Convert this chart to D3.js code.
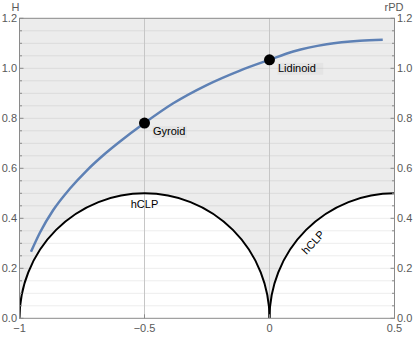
<!DOCTYPE html>
<html>
<head>
<meta charset="utf-8">
<script src="https://cdn.jsdelivr.net/npm/d3@7"></script>
<style>
  body { margin: 0; background: #fff; }
  text { font-family: "Liberation Sans", Arial, sans-serif; }
</style>
</head>
<body>
<svg id="chart" width="415" height="338"></svg>
<script>
// rPD family curve
let rpdX = [-0.954, -0.918, -0.865, -0.798, -0.731, -0.665, -0.598, -0.5, -0.385, -0.251, -0.118, 0, 0.095, 0.229, 0.362, 0.453];
let rpdH = [0.266, 0.343, 0.433, 0.519, 0.591, 0.652, 0.707, 0.781, 0.86, 0.933, 0.991, 1.034, 1.067, 1.096, 1.11, 1.114];

// named surfaces on the curve
let pointNames = ['Gyroid', 'Lidinoid'];
let pointX = [-0.5, 0];
let pointH = [0.781, 1.034];

// hCLP boundary arcs (centre, radius)
let arcCx = [-0.5, 0.5];
let arcR = [0.5, 0.5];

let xTicks = [-1, -0.5, 0, 0.5];
let yTicks = [0, 0.2, 0.4, 0.6, 0.8, 1.0, 1.2];
let yMinor = d3.range(0, 1.2001, 0.05);
let xGuides = [-0.5, 0];

let svg = d3.select('#chart');
let pLeft = 19.5, pRight = 394.5, pTop = 18.3, pBottom = 318.3;

let x = d3.scaleLinear().domain([-1, 0.5]).range([pLeft, pRight]);
let y = d3.scaleLinear().domain([0, 1.2]).range([pBottom, pTop]);

svg.append('defs').append('clipPath').attr('id', 'clip')
    .append('rect')
    .attr('x', pLeft).attr('y', pTop)
    .attr('width', pRight - pLeft).attr('height', pBottom - pTop);

let plot = svg.append('g').attr('clip-path', 'url(#clip)');

// horizontal grid lines
plot.selectAll('.grid')
    .data(yMinor.slice(1))
    .join('line')
    .attr('x1', pLeft).attr('x2', pRight)
    .attr('y1', d => y(d)).attr('y2', d => y(d))
    .attr('stroke', '#ededed')
    .attr('stroke-width', 1);

// gray filled region above the arcs
let fill = d3.path();
fill.moveTo(x(-1), y(1.2));
fill.lineTo(x(arcCx[0] - arcR[0]), y(0));
fill.arc(x(arcCx[0]), y(0), x(arcR[0]) - x(0), Math.PI, 2 * Math.PI);
fill.arc(x(arcCx[1]), y(0), x(arcR[1]) - x(0), Math.PI, 1.5 * Math.PI);
fill.lineTo(x(0.5), y(1.2));
fill.closePath();
plot.append('path')
    .attr('d', fill.toString())
    .attr('fill', 'rgba(0,0,0,0.075)');

// vertical guide lines
plot.selectAll('.vguide')
    .data(xGuides)
    .join('line')
    .attr('x1', d => x(d)).attr('x2', d => x(d))
    .attr('y1', pTop).attr('y2', pBottom)
    .attr('stroke', '#c6c6c6')
    .attr('stroke-width', 1);

// arcs
arcCx.forEach(function(cx, i) {
    let p = d3.path();
    let r = x(arcR[i]) - x(0);
    p.moveTo(x(cx) - r, y(0));
    p.arc(x(cx), y(0), r, Math.PI, 2 * Math.PI);
    plot.append('path')
        .attr('d', p.toString())
        .attr('fill', 'none')
        .attr('stroke', '#000')
        .attr('stroke-width', 2);
});

// rPD curve
let line = d3.line()
    .x(d => x(d[0]))
    .y(d => y(d[1]))
    .curve(d3.curveMonotoneX);
plot.append('path')
    .attr('d', line(d3.zip(rpdX, rpdH)))
    .attr('fill', 'none')
    .attr('stroke', '#5e81b5')
    .attr('stroke-width', 2.5);

// frame
svg.append('rect')
    .attr('x', pLeft).attr('y', pTop)
    .attr('width', pRight - pLeft).attr('height', pBottom - pTop)
    .attr('fill', 'none')
    .attr('stroke', '#8a8a8a')
    .attr('stroke-width', 1);

// y ticks, both sides, pointing inward
let isMajor = d => yTicks.some(t => Math.abs(t - d) < 1e-6);
svg.selectAll('.ytl')
    .data(yMinor)
    .join('line')
    .attr('x1', pLeft).attr('x2', d => pLeft + (isMajor(d) ? 4 : 2.5))
    .attr('y1', d => y(d)).attr('y2', d => y(d))
    .attr('stroke', '#8a8a8a');
svg.selectAll('.ytr')
    .data(yMinor)
    .join('line')
    .attr('x1', pRight).attr('x2', d => pRight - (isMajor(d) ? 4 : 2.5))
    .attr('y1', d => y(d)).attr('y2', d => y(d))
    .attr('stroke', '#8a8a8a');

// x ticks
svg.selectAll('.xt')
    .data(xTicks)
    .join('line')
    .attr('x1', d => x(d)).attr('x2', d => x(d))
    .attr('y1', pBottom).attr('y2', pBottom - 4)
    .attr('stroke', '#8a8a8a');

let fmtY = d3.format('.1f');
let tickColor = '#595959';

svg.selectAll('.yl')
    .data(yTicks)
    .join('text')
    .attr('x', pLeft - 2.5)
    .attr('y', d => y(d) + 4)
    .attr('text-anchor', 'end')
    .attr('font-size', 11)
    .attr('fill', tickColor)
    .text(d => fmtY(d));

svg.selectAll('.yr')
    .data(yTicks)
    .join('text')
    .attr('x', pRight + 2.5)
    .attr('y', d => y(d) + 4)
    .attr('text-anchor', 'start')
    .attr('font-size', 11)
    .attr('fill', tickColor)
    .text(d => fmtY(d));

svg.selectAll('.xl')
    .data(xTicks)
    .join('text')
    .attr('x', d => x(d))
    .attr('y', pBottom + 14)
    .attr('text-anchor', 'middle')
    .attr('font-size', 11)
    .attr('fill', tickColor)
    .text(d => d === 0 ? '0' : String(d).replace('-', '\u2212'));

// axis titles
svg.append('text')
    .attr('x', 15.5).attr('y', 11)
    .attr('text-anchor', 'middle')
    .attr('font-size', 11)
    .attr('fill', tickColor)
    .text('H');
svg.append('text')
    .attr('x', 394).attr('y', 11)
    .attr('text-anchor', 'middle')
    .attr('font-size', 11)
    .attr('fill', tickColor)
    .text('rPD');

// hCLP labels
svg.append('text')
    .attr('x', x(arcCx[0])).attr('y', y(arcR[0]) + 15)
    .attr('text-anchor', 'middle')
    .attr('font-size', 11)
    .text('hCLP');
svg.append('text')
    .attr('transform', 'translate(' + 316 + ',' + 245 + ') rotate(-47)')
    .attr('text-anchor', 'middle')
    .attr('font-size', 11)
    .text('hCLP');

// named points with labels
let pts = svg.selectAll('.pt')
    .data(pointNames)
    .join('g')
    .attr('transform', (d, i) => 'translate(' + x(pointX[i]) + ',' + y(pointH[i]) + ')');
pts.append('rect')
    .attr('x', 8).attr('y', 3)
    .attr('width', (d) => d.length * 5.6 + 1)
    .attr('height', 12)
    .attr('fill', 'rgba(0,0,0,0.03)');
pts.append('text')
    .attr('x', 8.5).attr('y', 12)
    .attr('font-size', 11)
    .text(d => d);
pts.append('circle')
    .attr('r', 5.5)
    .attr('fill', '#000');
</script>
</body>
</html>
